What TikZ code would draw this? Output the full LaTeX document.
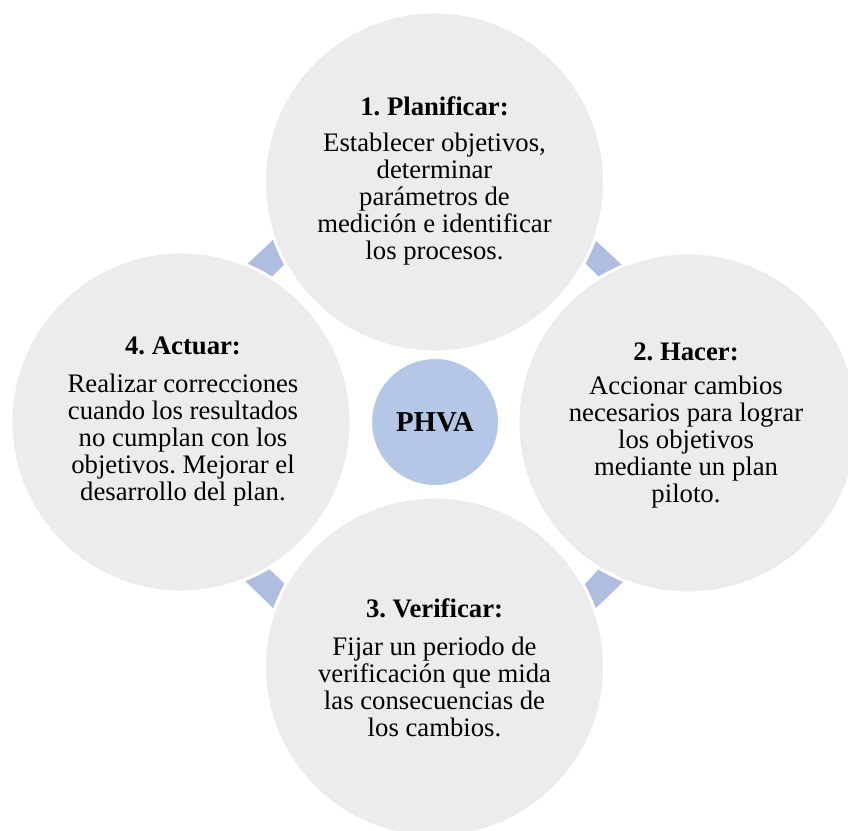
\documentclass[tikz,border=0pt]{standalone}
\usepackage{fontspec}
\setmainfont{Liberation Serif}
\usetikzlibrary{calc}
\definecolor{stagegray}{HTML}{ECECEC}
\definecolor{hubblue}{HTML}{B4C7E7}
\definecolor{linkblue}{HTML}{AFBDE0}
\frenchspacing

\begin{document}
\begin{tikzpicture}[x=0.025cm,y=-0.025cm,
  stage/.style={circle,fill=stagegray,draw=white,line width=0.075cm,
    minimum size=8.5cm,inner sep=0pt},
  hub/.style={circle,fill=hubblue,draw=white,line width=0.05cm,
    minimum size=3.2cm,inner sep=0pt,
    font=\fontsize{20.5pt}{22pt}\selectfont\bfseries},
  stagetitle/.style={inner sep=0pt,align=center,
    font=\fontsize{19pt}{19.2pt}\selectfont\bfseries},
  stagetext/.style={inner sep=0pt,align=center,
    font=\fontsize{19pt}{19.2pt}\selectfont}]

\useasboundingbox (0,0) rectangle (848,830);

% link wedges between neighbouring stages (drawn first, trimmed by the circles)
\coordinate (a1) at (249.3,262.3); \coordinate (a2) at (272.7,240);
\coordinate (a3) at (284.3,264.3); \coordinate (a4) at (274.3,274.3);
\coordinate (b1) at (595,240);     \coordinate (b2) at (621,264);
\coordinate (b3) at (598,276);     \coordinate (b4) at (585,263);
\coordinate (c1) at (623,582);     \coordinate (c2) at (597,607);
\coordinate (c3) at (586,583);     \coordinate (c4) at (599,569);
\coordinate (d1) at (274,609);     \coordinate (d2) at (243,579);
\coordinate (d3) at (267,567);     \coordinate (d4) at (285,584);

\foreach \w in {a,b,c,d}{
  \fill[linkblue] ($(\w1)!-0.5!(\w2)$) -- ($(\w2)!-0.5!(\w1)$)
    -- ($(\w3)!-1!(\w4)$) -- ($(\w4)!-1!(\w3)$) -- cycle;
}

% the four stages
\node[stage] (plan)   at (434.5,182) {};
\node[stage] (hacer)  at (688,423)   {};
\node[stage] (verif)  at (434.5,667) {};
\node[stage] (actuar) at (181,422)   {};

% centre hub
\node[hub] (phva) at (435,422) {PHVA};

% stage texts
\node[stagetitle] (plant) at (434.5,106) {1. Planificar:};
\node[stagetext]  (planb) at (434.5,199)
  {Establecer objetivos,\\determinar\\parámetros de\\medición e identificar\\los procesos.};

\node[stagetitle] (hacert) at (686,352) {2. Hacer:};
\node[stagetext]  (hacerb) at (686,442)
  {Accionar cambios\\necesarios para lograr\\los objetivos\\mediante un plan\\piloto.};

\node[stagetitle] (verift) at (434.5,608) {3. Verificar:};
\node[stagetext]  (verifb) at (434.5,687)
  {Fijar un periodo de\\verificación que mida\\las consecuencias de\\los cambios.};

\node[stagetitle] (actuart) at (183,346) {4. Actuar:};
\node[stagetext]  (actuarb) at (183,440)
  {Realizar correcciones\\cuando los resultados\\no cumplan con los\\objetivos. Mejorar el\\desarrollo del plan.};

\end{tikzpicture}
\end{document}
